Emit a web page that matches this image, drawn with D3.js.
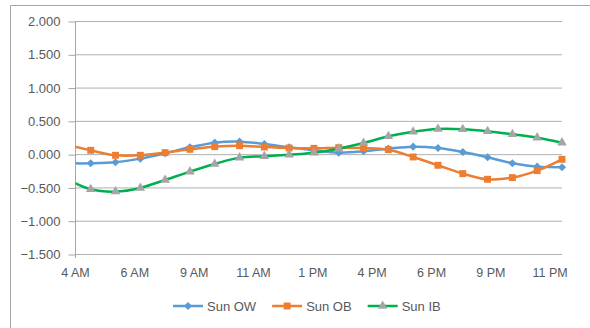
<!DOCTYPE html>
<html>
<head>
<meta charset="utf-8">
<script src="https://cdn.jsdelivr.net/npm/d3@7"></script>
<style>
  body { margin: 0; background: #fff; }
  text { font-family: "Liberation Sans", Arial, sans-serif; fill: #595959; }
</style>
</head>
<body>
<div id="chart"></div>
<script>
// hourly readings, 3 AM .. 11 PM (the 3 AM point sits left of the axis and is clipped)
var hours = [3, 4, 5, 6, 7, 8, 9, 10, 11, 12, 13, 14, 15, 16, 17, 18, 19, 20, 21, 22, 23];
var sunOW = [-0.13, -0.13, -0.115, -0.06, 0.02, 0.11, 0.18, 0.195, 0.16, 0.11, 0.065,
             0.03, 0.05, 0.09, 0.12, 0.10, 0.04, -0.04, -0.13, -0.18, -0.19];
var sunOB = [0.15, 0.065, -0.01, -0.01, 0.03, 0.08, 0.12, 0.135, 0.115, 0.10, 0.095,
             0.105, 0.10, 0.075, -0.035, -0.16, -0.285, -0.37, -0.345, -0.24, -0.07];
var sunIB = [-0.36, -0.52, -0.555, -0.5, -0.38, -0.255, -0.14, -0.045, -0.025, 0.0, 0.03,
             0.09, 0.175, 0.275, 0.345, 0.385, 0.38, 0.35, 0.305, 0.255, 0.18];

var seriesNames = ['Sun OW', 'Sun OB', 'Sun IB'];
var xTickLabels = ['4 AM', '6 AM', '9 AM', '11 AM', '1 PM', '4 PM', '6 PM', '9 PM', '11 PM'];
var yTicks = [-1.5, -1, -0.5, 0, 0.5, 1, 1.5, 2];

var chart_width = 590;
var chart_height = 328;

// axis runs from a little after 3 AM to 11 PM, labels every ~2.4 h
var x_min = 3.367;
var x_max = 23;
var x_step = 2.392;

var diamond = d3.symbolDiamond2 || d3.symbolDiamond;

var styles = [
    { line: '#5B9BD5', marker: '#5B9BD5', shape: diamond, size: 42 },
    { line: '#ED7D31', marker: '#ED7D31', shape: d3.symbolSquare, size: 48 },
    { line: '#00B050', marker: '#A5A5A5', shape: d3.symbolTriangle, size: 40 }
];

var series = [sunOW, sunOB, sunIB].map(function (vals, i) {
    return {
        name: seriesNames[i],
        style: styles[i],
        points: hours.map(function (h, j) { return { h: h, v: vals[j] }; })
    };
});

var svg = d3.select('#chart')
    .append('svg')
    .attr('width', chart_width)
    .attr('height', chart_height);

// outer frame
svg.append('path')
    .attr('d', 'M10.5,' + chart_height + 'V5.5H' + chart_width)
    .attr('fill', 'none')
    .attr('stroke', '#a6a6a6');

var x_scale = d3.scaleLinear()
    .domain([x_min, x_max])
    .range([75, 562]);

var y_scale = d3.scaleLinear()
    .domain([-1.5, 2])
    .range([254.5, 21.5]);

// gridlines
svg.append('g')
    .selectAll('line')
    .data(yTicks)
    .enter()
    .append('line')
    .attr('x1', 75)
    .attr('x2', 562)
    .attr('y1', function (d) { return y_scale(d); })
    .attr('y2', function (d) { return y_scale(d); })
    .attr('stroke', '#b0b0b0')
    .attr('stroke-width', 1);

// y axis
var y_axis = d3.axisLeft(y_scale)
    .tickValues(yTicks)
    .tickFormat(d3.format('.3f'))
    .tickSizeInner(7)
    .tickSizeOuter(0)
    .tickPadding(8);

var gy = svg.append('g')
    .attr('transform', 'translate(75.5,0)')
    .call(y_axis);
gy.select('.domain').attr('stroke', '#a6a6a6').attr('d', 'M0,21.5V258');
gy.selectAll('.tick line').attr('stroke', '#a6a6a6');
gy.selectAll('.tick text')
    .style('font-family', '"Liberation Sans", Arial, sans-serif')
    .style('font-size', '13px')
    .attr('fill', '#595959');

// x axis labels
var x_ticks = xTickLabels.map(function (d, i) { return x_min + i * x_step; });
var x_axis = d3.axisBottom(x_scale)
    .tickValues(x_ticks)
    .tickFormat(function (d, i) { return xTickLabels[i]; })
    .tickSize(0)
    .tickPadding(14);

var gx = svg.append('g')
    .attr('transform', 'translate(0,254.5)')
    .call(x_axis);
gx.select('.domain').remove();
gx.selectAll('.tick text')
    .style('font-family', '"Liberation Sans", Arial, sans-serif')
    .style('font-size', '12.5px')
    .attr('fill', '#595959');

// clip lines to plot area (left edge)
svg.append('clipPath')
    .attr('id', 'line-clip')
    .append('rect')
    .attr('x', 75.5)
    .attr('y', 10)
    .attr('width', 495)
    .attr('height', 250);

var line = d3.line()
    .x(function (d) { return x_scale(d.h); })
    .y(function (d) { return y_scale(d.v); })
    .curve(d3.curveCatmullRom.alpha(0.5));

var plot = svg.append('g');

series.forEach(function (s) {
    plot.append('path')
        .datum(s.points)
        .attr('clip-path', 'url(#line-clip)')
        .attr('d', line)
        .attr('fill', 'none')
        .attr('stroke', s.style.line)
        .attr('stroke-width', 2.5)
        .attr('stroke-linejoin', 'round');
});

series.forEach(function (s) {
    plot.append('g')
        .selectAll('path')
        .data(s.points.filter(function (d) { return d.h >= x_min; }))
        .enter()
        .append('path')
        .attr('transform', function (d) {
            return 'translate(' + x_scale(d.h) + ',' + y_scale(d.v) + ')';
        })
        .attr('d', d3.symbol().type(s.style.shape).size(s.style.size))
        .attr('fill', s.style.marker);
});

// legend
var legend = svg.append('g').attr('transform', 'translate(173,306)');
var lx = 0;
series.forEach(function (s) {
    var item = legend.append('g').attr('transform', 'translate(' + lx + ',0)');
    item.append('line')
        .attr('x1', 0).attr('x2', 30)
        .attr('y1', 0).attr('y2', 0)
        .attr('stroke', s.style.line)
        .attr('stroke-width', 2.5);
    item.append('path')
        .attr('transform', 'translate(15,0)')
        .attr('d', d3.symbol().type(s.style.shape).size(s.style.size))
        .attr('fill', s.style.marker);
    var t = item.append('text')
        .attr('x', 34)
        .attr('dy', '0.35em')
        .style('font-size', '13px')
        .text(s.name);
    lx += 34 + t.node().getComputedTextLength() + 16;
});
</script>
</body>
</html>
